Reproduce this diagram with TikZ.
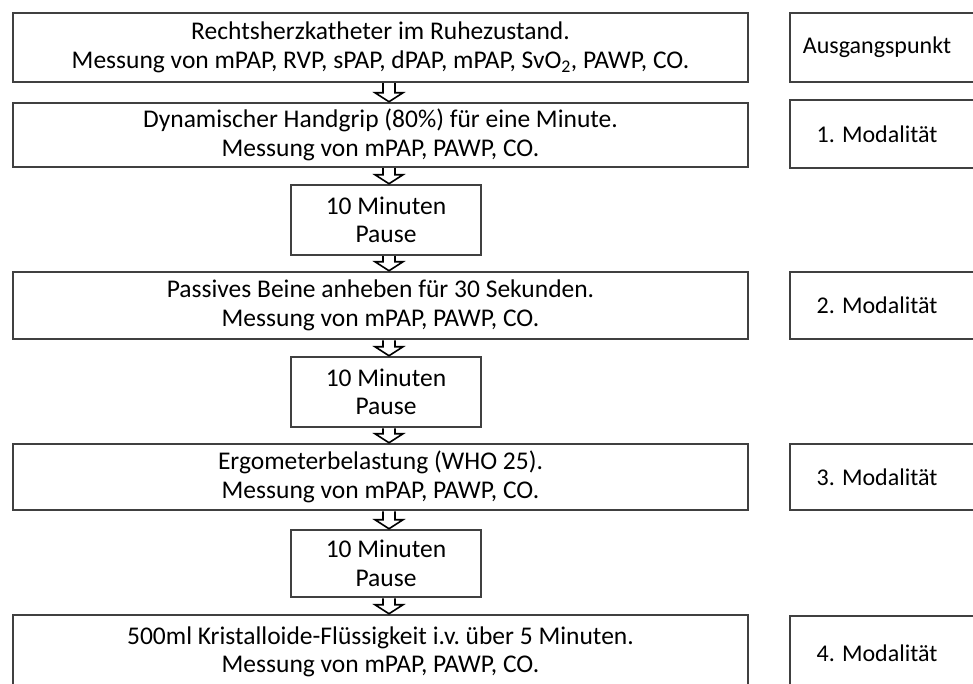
\documentclass[tikz,border=0pt]{standalone}
\usepackage{fontspec}
\setmainfont{Carlito}
\usetikzlibrary{calc}

\begin{document}
\begin{tikzpicture}[x=1pt,y=-1pt,
    stage/.style={draw=black!75,line width=2.5pt,fill=white,minimum width=735pt,align=center,font=\fontsize{25.5}{28.5}\selectfont},
    pausebox/.style={stage,minimum width=190pt,minimum height=70pt},
    frame/.style={draw=black!75,line width=2.5pt},
    blockarrow/.style={draw=black,line width=1.6pt,fill=white,line join=miter}]
        \useasboundingbox (0,0) rectangle (973,684);
        \clip (0,0) rectangle (973,684);

        \node[stage,minimum height=69pt] (s0) at (380.5,47.5) {Rechtsherzkatheter im Ruhezustand.\\Messung von mPAP, RVP, sPAP, dPAP, mPAP, SvO\textsubscript{2}, PAWP, CO.};
        \node[stage,minimum height=64pt] (s1) at (380.5,135) {Dynamischer Handgrip (80\%) für eine Minute.\\Messung von mPAP, PAWP, CO.};
        \node[pausebox] (p1) at (386,220) {10 Minuten\\Pause};
        \node[stage,minimum height=67pt] (s2) at (380.5,305.5) {Passives Beine anheben für 30 Sekunden.\\Messung von mPAP, PAWP, CO.};
        \node[pausebox] (p2) at (386,392) {10 Minuten\\Pause};
        \node[stage,minimum height=66pt] (s3) at (380.5,477) {Ergometerbelastung (WHO 25).\\Messung von mPAP, PAWP, CO.};
        \node[pausebox,minimum height=67pt] (p3) at (386,563.5) {10 Minuten\\Pause};
        \node[stage,minimum height=74pt] (s4) at (380.5,652) {500ml Kristalloide-Flüssigkeit i.v.\ über 5 Minuten.\\Messung von mPAP, PAWP, CO.};

        % right column
        \foreach[count=\i] \top/\bot/\label in {13/82/Ausgangspunkt,100/168/1. Modalität,272/339/2. Modalität,444/510/3. Modalität,616/690/4. Modalität} {
          \draw[frame] (790,\top) rectangle (990,\bot);
          \node[font=\fontsize{24}{27}\selectfont] (m\i) at (877,{(\top+\bot)/2}) {\label};
        }

        % block arrows
        \coordinate (ax) at (389,0);
        \foreach \a/\b in {s0/s1,s1/p1,p1/s2,s2/p2,p2/s3,s3/p3,p3/s4} {
          \path (\a.south -| ax) coordinate (s) (\b.north -| ax) coordinate (e);
          \draw[blockarrow] ([xshift=-6pt]s) -- ([xshift=-6pt,yshift=9pt]e) -- ([xshift=-14pt,yshift=9pt]e) -- (e)
            -- ([xshift=14pt,yshift=9pt]e) -- ([xshift=6pt,yshift=9pt]e) -- ([xshift=6pt]s);
        }
      \end{tikzpicture}
\end{document}
